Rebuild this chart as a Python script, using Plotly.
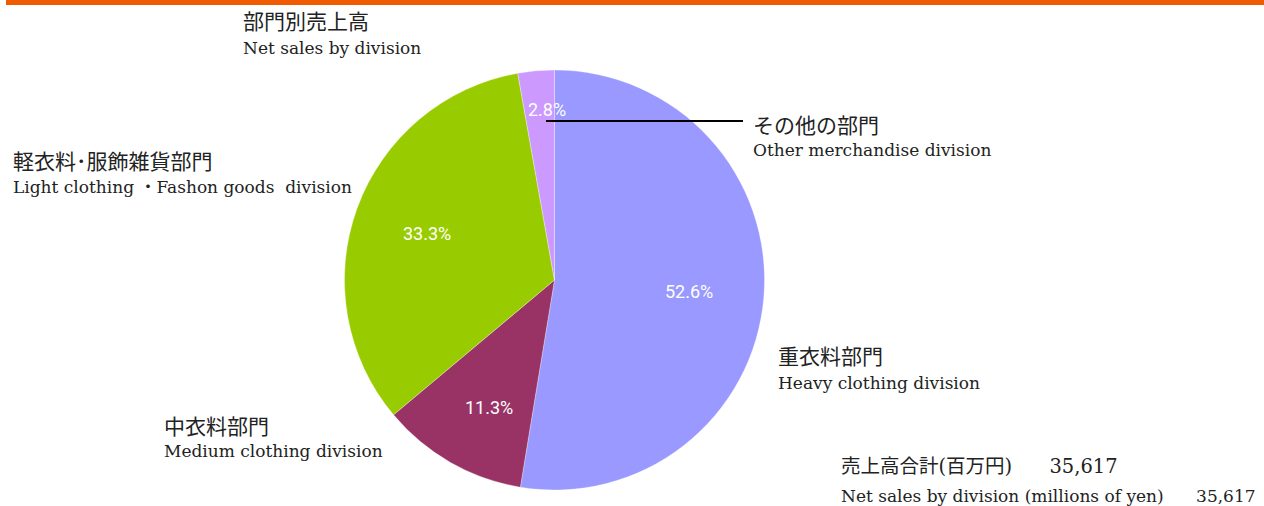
import math
import plotly.graph_objects as go

# Data
divisions_en = ["Heavy clothing division", "Medium clothing division",
                "Light clothing ・Fashon goods  division", "Other merchandise division"]
divisions_ja = ["重衣料部門", "中衣料部門", "軽衣料･服飾雑貨部門", "その他の部門"]
shares = [52.6, 11.3, 33.3, 2.8]
colors = ["#9999ff", "#993366", "#99cc00", "#cc99ff"]
title_ja = "部門別売上高"
title_en = "Net sales by division"
total_label_ja = "売上高合計(百万円)"
total_label_en = "Net sales by division (millions of yen)"
total_sales = "35,617"

W, H = 1264, 506

def px(x):
    return x / W

def py(y):
    return 1 - y / H

# pie geometry (pixels)
CX, CY, R = 554.5, 280, 210
dom_x = [px(CX - R), px(CX + R)]
dom_y = [py(CY + R), py(CY - R)]

fig = go.Figure()
fig.add_trace(go.Pie(
    values=shares,
    labels=divisions_en,
    sort=False,
    direction="clockwise",
    rotation=0,
    marker=dict(colors=colors, line=dict(color="rgba(255,255,255,0.6)", width=0.5)),
    textinfo="none",
    domain=dict(x=dom_x, y=dom_y),
    showlegend=False,
    hoverinfo="label+percent",
))

# percentage labels placed along each slice's mid-angle
label_radius = [0.645, 0.68, 0.645, 0.815]   # fraction of radius (style)
angle_shift = [0, -2.5, 0, 2.5]              # degrees (style)
annotations = []
total = sum(shares)
cum = 0.0
for v, rf, da in zip(shares, label_radius, angle_shift):
    mid = (cum + v / 2) / total * 360 + da
    cum += v
    a = math.radians(mid)
    lx = CX + rf * R * math.sin(a)
    ly = CY - rf * R * math.cos(a)
    annotations.append(dict(
        x=px(lx), y=py(ly), xref="paper", yref="paper",
        text=f"{v / total * 100:.1f}%", showarrow=False,
        xanchor="center", yanchor="middle",
        font=dict(family="Roboto", size=18, color="white"),
    ))

en_font = "DejaVu Serif, Noto Sans CJK JP, serif"
ja_font = "DejaVu Serif, Noto Sans CJK JP, serif"
texts = [
    # (x, y, text, family, size)
    (241, 22, title_ja, ja_font, 21),
    (241, 48, title_en, en_font, 17),
    (11, 162, divisions_ja[2], ja_font, 21),
    (11, 187, divisions_en[2], en_font, 17),
    (751, 126, divisions_ja[3], ja_font, 21),
    (751, 150, divisions_en[3], en_font, 17),
    (776, 357, divisions_ja[0], ja_font, 21),
    (776, 383, divisions_en[0], en_font, 17),
    (162, 427, divisions_ja[1], ja_font, 21),
    (162, 451, divisions_en[1], en_font, 17),
    (839, 466, total_label_ja + "&nbsp;" * 6 + total_sales, ja_font, 19.5),
    (839, 496, total_label_en + "&nbsp;" * 6 + total_sales, en_font, 17),
]
for x, y, t, fam, sz in texts:
    annotations.append(dict(
        x=px(x), y=py(y), xref="paper", yref="paper", text=t.replace("  ", "&nbsp; "),
        showarrow=False, xanchor="left", yanchor="middle",
        font=dict(family=fam, size=sz, color="#222222"),
    ))

shapes = [
    dict(type="rect", xref="paper", yref="paper", x0=px(6), x1=1, y0=py(5), y1=1,
         fillcolor="#f05a00", line=dict(width=0)),
    dict(type="line", xref="paper", yref="paper", x0=px(546), x1=px(743), y0=py(121), y1=py(121),
         line=dict(color="black", width=2)),
]

fig.update_layout(
    width=W, height=H,
    margin=dict(l=0, r=0, t=0, b=0),
    paper_bgcolor="white", plot_bgcolor="white",
    annotations=annotations,
    shapes=shapes,
)

fig.write_html("out.html")
